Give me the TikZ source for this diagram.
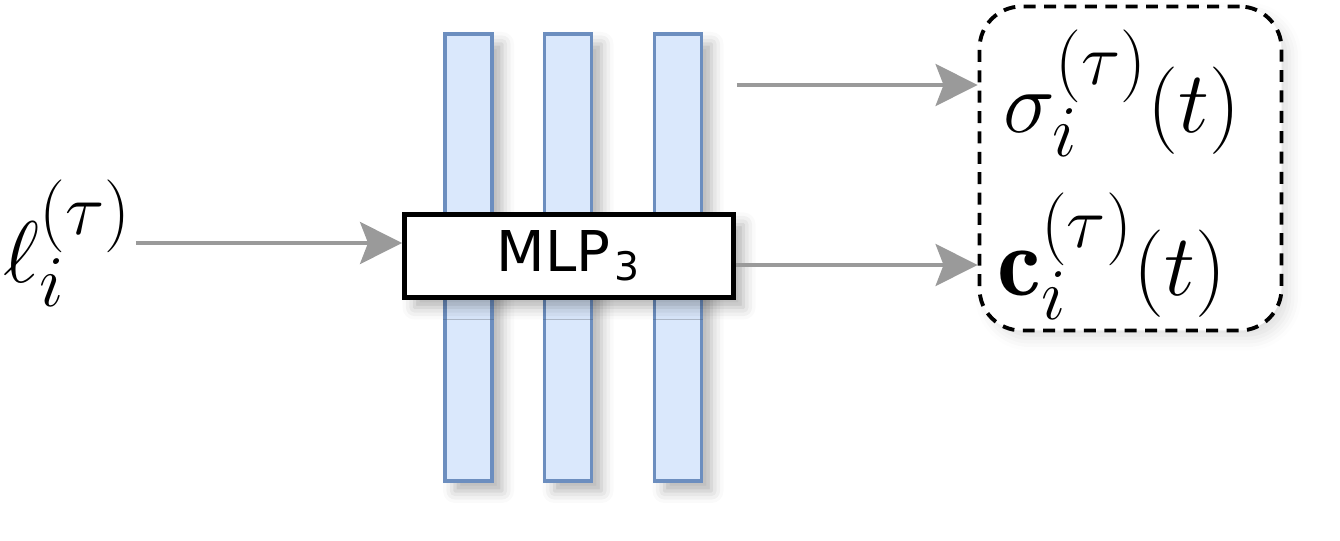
\documentclass[tikz,border=0pt]{standalone}
\usepackage{fontspec}
\newfontfamily\mlpfont{DejaVu Sans}
\usetikzlibrary{arrows.meta,calc,shadows.blur}
\definecolor{barfill}{HTML}{DAE8FC}
\definecolor{barline}{HTML}{6C8EBF}
\definecolor{arrgray}{HTML}{9A9A9A}

\begin{document}
\begin{tikzpicture}[
    softshadow/.style={blur shadow={shadow xshift=0.1cm,shadow yshift=-0.1cm,shadow blur radius=0.12cm,shadow opacity=30}},
    layer/.style={draw=barline,fill=barfill,line width=1.1pt,inner sep=0pt,
      minimum width=0.47cm,minimum height=4.47cm,softshadow},
    mlpbox/.style={draw=black,fill=white,line width=1.4pt,inner sep=0pt,
      minimum width=3.29cm,minimum height=0.83cm,softshadow,
      font=\mlpfont\fontsize{16}{19}\selectfont},
    outbox/.style={draw=black,fill=white,dashed,dash pattern=on 3.4pt off 2.4pt,
      line width=1.1pt,rounded corners=0.42cm,inner sep=0pt,
      blur shadow={shadow xshift=0.08cm,shadow yshift=-0.08cm,shadow blur radius=0.12cm,shadow opacity=12}},
    mathlbl/.style={inner sep=0pt,font=\fontsize{28}{34}\selectfont},
    flow/.style={draw=arrgray,line width=1.1pt,
      -{Stealth[length=0.42cm,width=0.42cm,inset=0.08cm]}}
  ]
  \useasboundingbox (0,0) rectangle (13.4,5.4);

  % three layers of the network
  \node[layer] (L1) at (4.685,2.825) {};
  \node[layer] (L2) at (5.68,2.825) {};
  \node[layer] (L3) at (6.78,2.825) {};
  \node[mlpbox] (mlp) at (5.69,2.84) {MLP\kern0.08em\textsubscript{3}};

  % input and outputs
  \node[mathlbl,anchor=west] (ell) at (0.03,2.97) {$\ell_i^{(\tau)}$};
  \node[outbox,minimum width=3.02cm,minimum height=3.24cm] (out) at (11.305,3.715) {};
  \node[mathlbl] (sig) at (11.22,4.47) {$\sigma_i^{(\tau)}(t)$};
  \node[mathlbl] (col) at (11.12,2.84) {$\mathbf{c}_i^{(\tau)}(t)$};

  \coordinate (a1) at ($(mlp.west)+(0,0.13)$) ;
  \coordinate (o1) at ($(out.west)+(0,0.835)$) ;
  \coordinate (o2) at ($(out.west)+(0,-0.965)$) ;

  \draw[flow] ($(ell.east |- a1)+(0.03,0)$) -- (a1) ;
  \draw[flow] ($(mlp.east |- o1)+(0.01,0)$) -- (o1) ;
  \draw[flow] (mlp.east |- o2) -- (o2) ;
\end{tikzpicture}
\end{document}
